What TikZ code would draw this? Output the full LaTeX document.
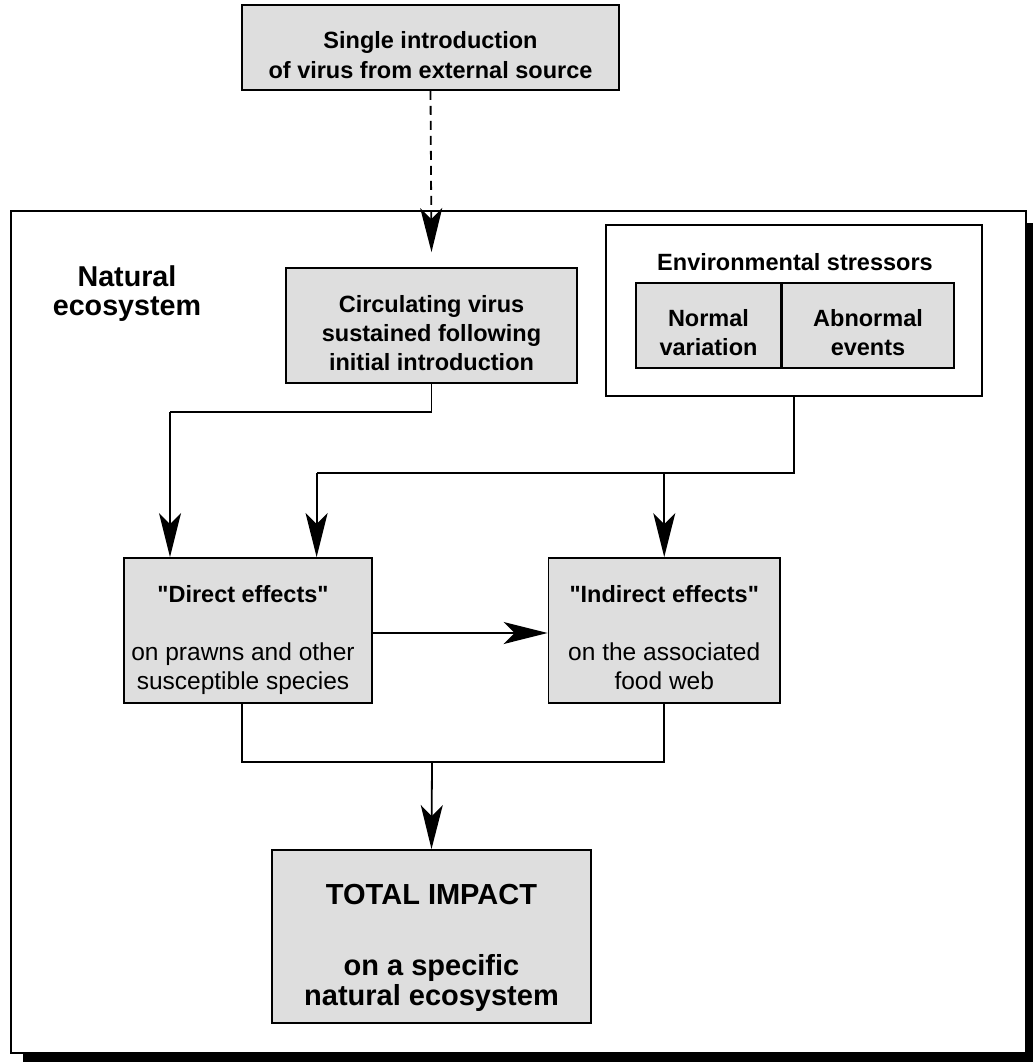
\documentclass[tikz,border=0pt]{standalone}
\usepackage{fontspec}
\setmainfont{Liberation Sans}[Ligatures=TeXOff]
\usetikzlibrary{arrows.meta}
\definecolor{boxfill}{RGB}{222,222,222}
\begin{document}
\begin{tikzpicture}[x=1pt,y=-1pt,
  box/.style={draw, line width=1.8pt, fill=boxfill, inner sep=0pt},
  plainbox/.style={draw, line width=1.8pt, fill=white, inner sep=0pt},
  btext/.style={font=\fontsize{23.5}{29}\selectfont\bfseries, align=center, anchor=base, inner sep=0pt},
  rtext/.style={font=\fontsize{24.5}{29}\selectfont, align=center, anchor=base, inner sep=0pt},
  link/.style={line width=1.8pt},
  arr/.style={line width=1.8pt, -{Stealth[length=44pt, width=22pt, inset=11pt]}},
  dasharr/.style={arr, dash pattern=on 9pt off 6pt}
]
\useasboundingbox (0,0) rectangle (1033,1062);
% text nodes are anchored at the baseline of their last line

% ecosystem frame with its shadow
\fill[black] (23,223) rectangle (1033,1062);
\node[draw, fill=white, line width=2pt, inner sep=0pt, anchor=north west,
      minimum width=1015pt, minimum height=842pt] (eco) at (10,210) {};
\node[font=\fontsize{28.7}{28.5}\selectfont\bfseries, align=center, anchor=base, inner sep=0pt]
  (ecolabel) at (127,315.2) {Natural\\ecosystem};

% source of the virus
\node[box, minimum width=377pt, minimum height=85pt] (src) at (430.5,47.5) {};
\node[btext, font=\fontsize{23.5}{30.5}\selectfont\bfseries] (srctext) at (430.5,79)
  {Single introduction\\of virus from external source};

% circulating virus
\node[box, minimum width=291pt, minimum height=115pt] (circ) at (431.5,325.5) {};
\node[btext] (circtext) at (431.5,370) {Circulating virus\\sustained following\\initial introduction};

% environmental stressors
\node[plainbox, minimum width=376pt, minimum height=171pt] (env) at (794,310.5) {};
\node[btext] (envtext) at (795,270) {Environmental stressors};
\node[box, minimum width=145pt, minimum height=85pt] (normal) at (708.5,325.5) {};
\node[btext, font=\fontsize{23.5}{28.5}\selectfont\bfseries] (normaltext) at (708.5,355.2) {Normal\\variation};
\node[box, minimum width=172pt, minimum height=85pt] (abnormal) at (868,325.5) {};
\node[btext, font=\fontsize{23.5}{28.5}\selectfont\bfseries] (abnormaltext) at (868,355.2) {Abnormal\\events};

% effects
\node[box, minimum width=248pt, minimum height=145pt] (direct) at (248,630.5) {};
\node[rtext] (directtext) at (243,689)
  {{\fontsize{23.5}{29}\selectfont\bfseries "Direct effects"}\\[29pt]on prawns and other\\susceptible species};
\node[box, minimum width=231.5pt, minimum height=145pt] (indirect) at (664.25,630.5) {};
\node[rtext] (indirecttext) at (664.25,689)
  {{\fontsize{23.5}{29}\selectfont\bfseries "Indirect effects"}\\[29pt]on the associated\\food web};

% total impact
\node[box, minimum width=319pt, minimum height=173pt] (total) at (431.5,936.5) {};
\node[btext, font=\fontsize{29}{30}\selectfont\bfseries] (totaltext) at (431.5,1005)
  {TOTAL IMPACT\\[41pt]on a specific\\natural ecosystem};

% routing points
\coordinate (circturn) at (170,412);
\coordinate (envturn) at (316.6,473);
\coordinate (join) at (432,762);

% connectors
\draw[dasharr] (src.south) -- ([yshift=15pt]circ.north);
\draw[link] (circ.south) |- (circturn);
\draw[arr] (circturn) -- (circturn |- direct.north);
\draw[link] (env.south) |- (envturn);
\draw[arr] (envturn) -- (envturn |- direct.north);
\draw[arr] (envturn -| indirect.north) -- (indirect.north);
\draw[arr] (direct.east |- 0,633) -- (indirect.west |- 0,633);
\draw[link] ([xshift=-6pt]direct.south) |- (join) -| (indirect.south);
\draw[arr] (join) -- (total.north);
\end{tikzpicture}
\end{document}
